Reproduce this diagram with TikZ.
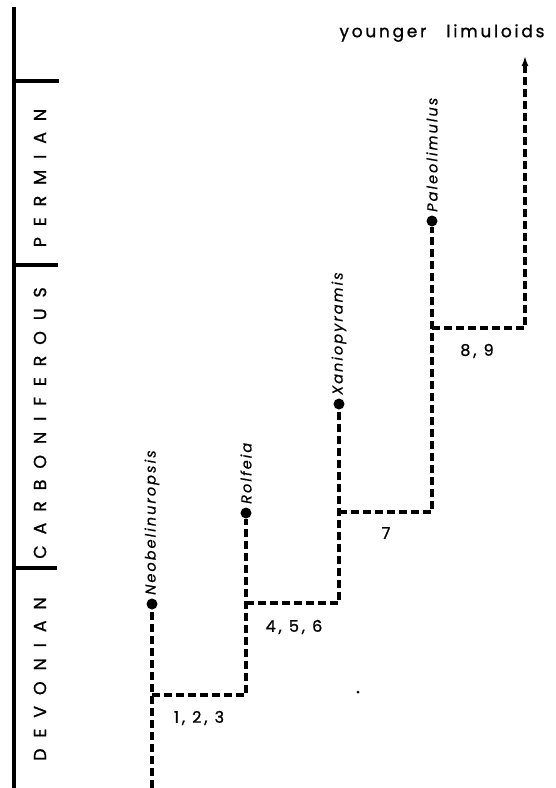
\documentclass[tikz,border=0pt]{standalone}
\usepackage{fontspec}
\setmainfont{Poppins}
\newfontfamily\periodfont[LetterSpace=62,FakeBold=1]{Poppins}
\newfontfamily\namefont[LetterSpace=14,FakeBold=0.6]{Poppins}
\newfontfamily\numfont[LetterSpace=18,FakeBold=1]{Poppins}
\newfontfamily\topfont[LetterSpace=16,FakeBold=1]{Poppins}
\usetikzlibrary{arrows.meta}
\begin{document}
\begin{tikzpicture}[x=1pt,y=-1pt,
  axisline/.style={line width=3.4pt},
  lineage/.style={line width=3.2pt, dash pattern=on 8pt off 4pt},
  taxon/.style={circle, fill=black, inner sep=0pt, minimum size=11pt},
  taxonname/.style={rotate=90, anchor=west, inner sep=0pt, font=\namefont\itshape\fontsize{14.5}{14.5}\selectfont},
  period/.style={rotate=90, inner sep=0pt, font=\periodfont\fontsize{17.5}{17.5}\selectfont},
  numlabel/.style={inner sep=0pt, font=\numfont\fontsize{16}{16}\selectfont},
]
\useasboundingbox (0,0) rectangle (555,788);
% time axis
\coordinate (axtop) at (14,7);
\coordinate (axbot) at (14,788);
\draw[axisline] (axtop) -- (axbot);
\coordinate (t1) at (14,81);  \coordinate (t1e) at (59,81);
\coordinate (t2) at (14,265); \coordinate (t2e) at (58,265);
\coordinate (t3) at (14,568); \coordinate (t3e) at (57,568);
\draw[axisline] (t1) -- (t1e);
\draw[axisline] (t2) -- (t2e);
\draw[axisline] (t3) -- (t3e);
\node[period] (perm) at (40,178) {PERMIAN};
\node[period] (carb) at (40,423) {CARBONIFEROUS};
\node[period] (devo) at (40,679) {DEVONIAN};
% taxa
\node[taxon] (neo) at (152,604) {};
\node[taxon] (rol) at (246,513) {};
\node[taxon] (xan) at (339,404) {};
\node[taxon] (pal) at (432,221) {};
\node[taxonname] (neot) at ([yshift=9pt]neo.center) {Neobelinuropsis};
\node[taxonname] (rolt) at ([yshift=9pt]rol.center) {Rolfeia};
\node[taxonname] (xant) at ([yshift=9pt]xan.center) {Xaniopyramis};
\node[taxonname] (palt) at ([yshift=9pt]pal.center) {Paleolimulus};
% junctions
\coordinate (root) at (152,788);
\coordinate (j1) at (152,695); \coordinate (j1r) at (246,695);
\coordinate (j2) at (246,603); \coordinate (j2r) at (339,603);
\coordinate (j3) at (339,512); \coordinate (j3r) at (432,512);
\coordinate (j4) at (432,328); \coordinate (j4r) at (525,328);
\coordinate (top) at (525,56);
\draw[lineage] (root) -- (neo);
\draw[lineage] (j1) -- (j1r) -- (rol);
\draw[lineage] (j2) -- (j2r) -- (xan);
\draw[lineage] (j3) -- (j3r) -- (pal);
\draw[lineage, -{Latex[length=10pt,width=7pt]}] (j4) -- (j4r) -- (top);
% labels
\node[numlabel] (l1) at (199,718) {1, 2, 3};
\node[numlabel] (l2) at (294,627) {4, 5, 6};
\node[numlabel] (l3) at (386,533) {7};
\node[numlabel] (l4) at (477,351) {8, 9};
\node[inner sep=0pt, font=\topfont\fontsize{17}{17}\selectfont] (young) at (442,33) {younger\hspace{20pt}limuloids};
\fill (358,692) circle (1.5pt);
\end{tikzpicture}
\end{document}
